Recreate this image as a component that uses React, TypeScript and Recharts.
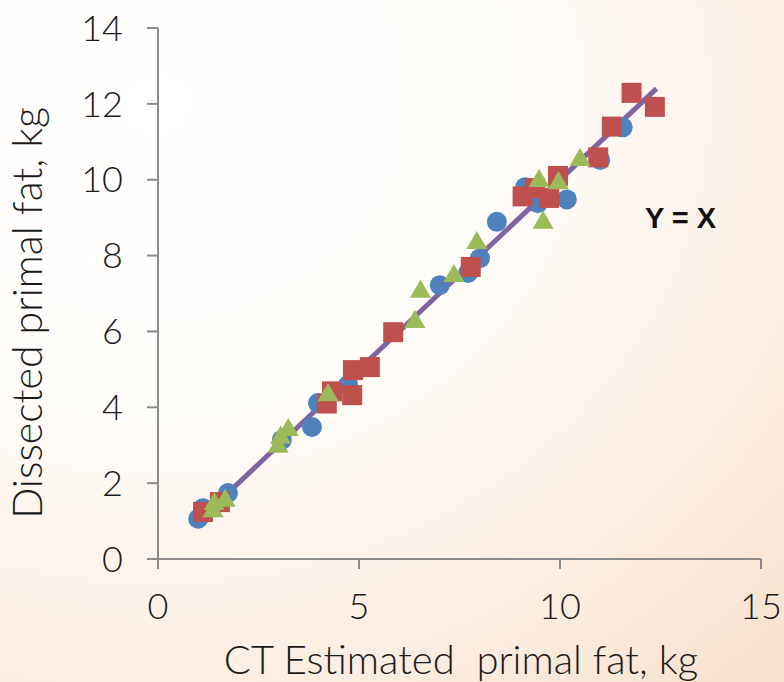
import React from 'react';
import { ScatterChart, Scatter, XAxis, YAxis, ReferenceDot, Label } from 'recharts';

// values
const blueX = [1.0, 1.12, 1.74, 3.08, 3.83, 3.98, 4.73, 7.01, 7.71, 8.01, 8.43, 9.13, 9.45, 10.17, 11.0, 11.56];
const blueY = [1.06, 1.34, 1.74, 3.14, 3.48, 4.11, 4.59, 7.22, 7.54, 7.93, 8.89, 9.8, 9.38, 9.48, 10.52, 11.38];

const redX = [1.12, 1.54, 4.2, 4.33, 4.83, 4.85, 5.27, 5.85, 7.78, 9.07, 9.38, 9.73, 9.95, 10.95, 11.29, 11.78, 12.36];
const redY = [1.24, 1.5, 4.1, 4.42, 4.32, 4.98, 5.06, 5.98, 7.7, 9.56, 9.78, 9.52, 10.1, 10.59, 11.4, 12.29, 11.92];

const greenX = [1.37, 1.4, 1.67, 2.99, 3.05, 3.24, 4.23, 6.39, 6.53, 7.36, 7.93, 9.48, 9.58, 9.96, 10.5];
const greenY = [1.26, 1.45, 1.54, 2.96, 3.2, 3.4, 4.32, 6.25, 7.05, 7.46, 8.33, 9.97, 8.87, 9.91, 10.52];

const lineX = [1.4, 12.4];

const xTicks = [0, 5, 10, 15];
const yTicks = [0, 2, 4, 6, 8, 10, 12, 14];

const toPoints = (xs: number[], ys: number[]) => xs.map((x, i) => ({ x, y: ys[i] }));
const blueData = toPoints(blueX, blueY);
const redData = toPoints(redX, redY);
const greenData = toPoints(greenX, greenY);
const lineData = toPoints(lineX, lineX);

const FONT = 'Lato, "Noto Sans", sans-serif';
const AXIS = '#8c8c8c';

const Circle = (p: any) => <circle cx={p.cx} cy={p.cy} r={10} fill="#4F81BD" />;
const Square = (p: any) => <rect x={p.cx - 10} y={p.cy - 10} width={20} height={20} fill="#C0504D" />;
const Triangle = (p: any) => {
  const s = 21;
  const h = (s * Math.sqrt(3)) / 2;
  const pts = `${p.cx},${p.cy - (2 * h) / 3} ${p.cx - s / 2},${p.cy + h / 3} ${p.cx + s / 2},${p.cy + h / 3}`;
  return <polygon points={pts} fill="#9BBB59" />;
};

export default function App() {
  return (
    <div
      style={{
        position: 'absolute',
        left: 0,
        top: 0,
        width: 784,
        height: 682,
        background:
          'radial-gradient(ellipse 110% 110% at 20% 15%, #ffffff 0%, #fffdfa 40%, #fcefe4 75%, #f8e3d2 100%)',
      }}
    >
      <ScatterChart width={784} height={682} margin={{ top: 28, right: 23, bottom: 0, left: 0 }}>
        <XAxis
          type="number"
          dataKey="x"
          domain={[0, 15]}
          ticks={xTicks}
          height={123}
          tickSize={10}
          tickMargin={24}
          axisLine={{ stroke: AXIS, strokeWidth: 2 }}
          tickLine={{ stroke: AXIS, strokeWidth: 2 }}
          tick={{ fill: '#1a1a1a', fontSize: 36, fontFamily: FONT, fontWeight: 300 }}
        >
          <Label
            content={() => (
              <text
                x={461}
                y={674}
                textAnchor="middle"
                fontSize={40}
                fontWeight={300}
                fontFamily={FONT}
                fill="#1a1a1a"
                style={{ whiteSpace: 'pre' }}
              >
                CT Estimated  primal fat, kg
              </text>
            )}
          />
        </XAxis>
        <YAxis
          type="number"
          dataKey="y"
          domain={[0, 14]}
          ticks={yTicks}
          width={158}
          tickSize={11}
          tickMargin={24}
          axisLine={{ stroke: AXIS, strokeWidth: 2 }}
          tickLine={{ stroke: AXIS, strokeWidth: 2 }}
          tick={{ fill: '#1a1a1a', fontSize: 36, fontFamily: FONT, fontWeight: 300 }}
        >
          <Label
            content={() => (
              <text
                transform="translate(42,313) rotate(-90)"
                textAnchor="middle"
                fontSize={41}
                fontWeight={300}
                fontFamily={FONT}
                fill="#1a1a1a"
              >
                Dissected primal fat, kg
              </text>
            )}
          />
        </YAxis>
        <Scatter
          data={lineData}
          line={{ stroke: '#8064A2', strokeWidth: 5 }}
          shape={() => null}
          isAnimationActive={false}
        />
        <Scatter data={blueData} shape={Circle} isAnimationActive={false} />
        <Scatter data={redData} shape={Square} isAnimationActive={false} />
        <Scatter data={greenData} shape={Triangle} isAnimationActive={false} />
        <ReferenceDot
          x={13.0}
          y={9.0}
          r={0}
          fill="none"
          stroke="none"
          label={{
            content: (props: any) => (
              <text
                x={props.viewBox.x}
                y={props.viewBox.y}
                dy={10}
                textAnchor="middle"
                fontSize={29}
                fontWeight={700}
                fontFamily='"Liberation Sans", Arial, sans-serif'
                fill="#111"
              >
                Y = X
              </text>
            ),
          }}
        />
      </ScatterChart>
    </div>
  );
}
